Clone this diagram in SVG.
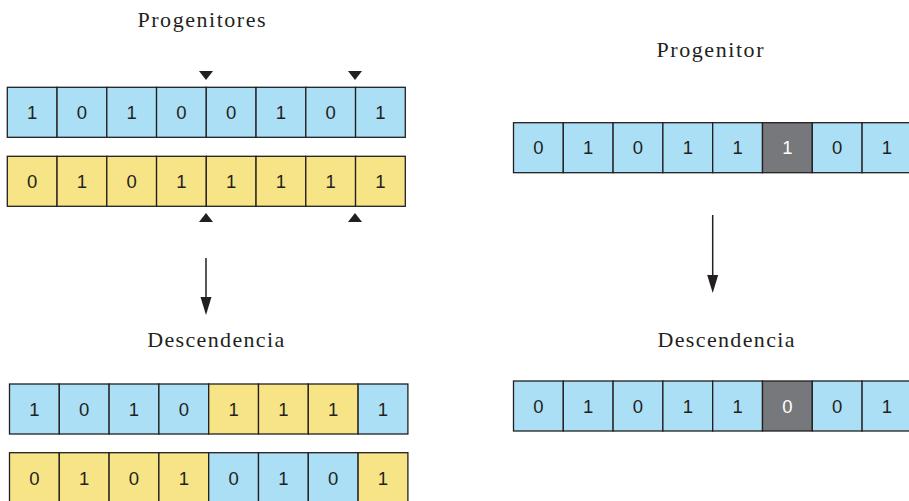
<svg xmlns="http://www.w3.org/2000/svg" width="909" height="501" viewBox="0 0 909 501">
<style>
.b{fill:#abdff5;stroke:#231f20;stroke-width:1.3}
.y{fill:#f7e486;stroke:#231f20;stroke-width:1.3}
.g{fill:#77787b;stroke:#231f20;stroke-width:1.3}
.d{font-family:"Liberation Sans",Arial,sans-serif;font-size:18.5px;fill:#231f20;text-anchor:middle}
.w{fill:#ffffff}
.t{font-family:"Liberation Serif","Times New Roman",serif;font-size:22px;fill:#231f20;text-anchor:middle}
.c{stroke:#231f20;stroke-width:1.5;fill:none}
.m{fill:#231f20}
</style>
<text class="t" x="201.5" y="26.7" textLength="128" lengthAdjust="spacing">Progenitores</text>
<text class="t" x="710" y="56.7" textLength="107" lengthAdjust="spacing">Progenitor</text>
<text class="t" x="215.7" y="347" textLength="137" lengthAdjust="spacing">Descendencia</text>
<text class="t" x="726" y="347" textLength="137" lengthAdjust="spacing">Descendencia</text>

<g id="markers">
<path class="m" d="M199,71 L213,71 L206,80 Z"/>
<path class="m" d="M348,71 L362,71 L355,80 Z"/>
<path class="m" d="M199,222 L213,222 L206,213 Z"/>
<path class="m" d="M348,222 L362,222 L355,213 Z"/>
</g>

<g id="parent1">
<rect class="b" x="7.3" y="87.3" width="49.75" height="50"/>
<rect class="b" x="57.05" y="87.3" width="49.75" height="50"/>
<rect class="b" x="106.8" y="87.3" width="49.75" height="50"/>
<rect class="b" x="156.55" y="87.3" width="49.75" height="50"/>
<rect class="b" x="206.3" y="87.3" width="49.75" height="50"/>
<rect class="b" x="256.05" y="87.3" width="49.75" height="50"/>
<rect class="b" x="305.8" y="87.3" width="49.75" height="50"/>
<rect class="b" x="355.55" y="87.3" width="49.75" height="50"/>
<text class="d" x="32.2" y="119">1</text>
<text class="d" x="81.9" y="119">0</text>
<text class="d" x="131.7" y="119">1</text>
<text class="d" x="181.4" y="119">0</text>
<text class="d" x="231.2" y="119">0</text>
<text class="d" x="280.9" y="119">1</text>
<text class="d" x="330.7" y="119">0</text>
<text class="d" x="380.4" y="119">1</text>
</g>

<g id="parent2">
<rect class="y" x="7.3" y="156.3" width="49.75" height="50"/>
<rect class="y" x="57.05" y="156.3" width="49.75" height="50"/>
<rect class="y" x="106.8" y="156.3" width="49.75" height="50"/>
<rect class="y" x="156.55" y="156.3" width="49.75" height="50"/>
<rect class="y" x="206.3" y="156.3" width="49.75" height="50"/>
<rect class="y" x="256.05" y="156.3" width="49.75" height="50"/>
<rect class="y" x="305.8" y="156.3" width="49.75" height="50"/>
<rect class="y" x="355.55" y="156.3" width="49.75" height="50"/>
<text class="d" x="32.2" y="188">0</text>
<text class="d" x="81.9" y="188">1</text>
<text class="d" x="131.7" y="188">0</text>
<text class="d" x="181.4" y="188">1</text>
<text class="d" x="231.2" y="188">1</text>
<text class="d" x="280.9" y="188">1</text>
<text class="d" x="330.7" y="188">1</text>
<text class="d" x="380.4" y="188">1</text>
</g>

<g id="child1">
<rect class="b" x="9.5" y="384" width="49.8" height="50"/>
<rect class="b" x="59.3" y="384" width="49.8" height="50"/>
<rect class="b" x="109.1" y="384" width="49.8" height="50"/>
<rect class="b" x="158.9" y="384" width="49.8" height="50"/>
<rect class="y" x="208.7" y="384" width="49.8" height="50"/>
<rect class="y" x="258.5" y="384" width="49.8" height="50"/>
<rect class="y" x="308.3" y="384" width="49.8" height="50"/>
<rect class="b" x="358.1" y="384" width="49.8" height="50"/>
<text class="d" x="34.4" y="415.5">1</text>
<text class="d" x="84.2" y="415.5">0</text>
<text class="d" x="134" y="415.5">1</text>
<text class="d" x="183.8" y="415.5">0</text>
<text class="d" x="233.6" y="415.5">1</text>
<text class="d" x="283.4" y="415.5">1</text>
<text class="d" x="333.2" y="415.5">1</text>
<text class="d" x="383" y="415.5">1</text>
</g>

<g id="child2">
<rect class="y" x="9.5" y="452.7" width="49.8" height="50"/>
<rect class="y" x="59.3" y="452.7" width="49.8" height="50"/>
<rect class="y" x="109.1" y="452.7" width="49.8" height="50"/>
<rect class="y" x="158.9" y="452.7" width="49.8" height="50"/>
<rect class="b" x="208.7" y="452.7" width="49.8" height="50"/>
<rect class="b" x="258.5" y="452.7" width="49.8" height="50"/>
<rect class="b" x="308.3" y="452.7" width="49.8" height="50"/>
<rect class="y" x="358.1" y="452.7" width="49.8" height="50"/>
<text class="d" x="34.4" y="484.5">0</text>
<text class="d" x="84.2" y="484.5">1</text>
<text class="d" x="134" y="484.5">0</text>
<text class="d" x="183.8" y="484.5">1</text>
<text class="d" x="233.6" y="484.5">0</text>
<text class="d" x="283.4" y="484.5">1</text>
<text class="d" x="333.2" y="484.5">0</text>
<text class="d" x="383" y="484.5">1</text>
</g>

<g id="parent3">
<rect class="b" x="513.5" y="122.7" width="49.8" height="50"/>
<rect class="b" x="563.3" y="122.7" width="49.8" height="50"/>
<rect class="b" x="613.1" y="122.7" width="49.8" height="50"/>
<rect class="b" x="662.9" y="122.7" width="49.8" height="50"/>
<rect class="b" x="712.7" y="122.7" width="49.8" height="50"/>
<rect class="g" x="762.5" y="122.7" width="49.8" height="50"/>
<rect class="b" x="812.3" y="122.7" width="49.8" height="50"/>
<rect class="b" x="862.1" y="122.7" width="49.8" height="50"/>
<text class="d" x="538.4" y="154">0</text>
<text class="d" x="588.2" y="154">1</text>
<text class="d" x="638" y="154">0</text>
<text class="d" x="687.8" y="154">1</text>
<text class="d" x="737.6" y="154">1</text>
<text class="d w" x="787.4" y="154">1</text>
<text class="d" x="837.2" y="154">0</text>
<text class="d" x="887" y="154">1</text>
</g>

<g id="child3">
<rect class="b" x="513.5" y="381" width="49.8" height="50"/>
<rect class="b" x="563.3" y="381" width="49.8" height="50"/>
<rect class="b" x="613.1" y="381" width="49.8" height="50"/>
<rect class="b" x="662.9" y="381" width="49.8" height="50"/>
<rect class="b" x="712.7" y="381" width="49.8" height="50"/>
<rect class="g" x="762.5" y="381" width="49.8" height="50"/>
<rect class="b" x="812.3" y="381" width="49.8" height="50"/>
<rect class="b" x="862.1" y="381" width="49.8" height="50"/>
<text class="d" x="538.4" y="412.5">0</text>
<text class="d" x="588.2" y="412.5">1</text>
<text class="d" x="638" y="412.5">0</text>
<text class="d" x="687.8" y="412.5">1</text>
<text class="d" x="737.6" y="412.5">1</text>
<text class="d w" x="787.4" y="412.5">0</text>
<text class="d" x="837.2" y="412.5">0</text>
<text class="d" x="887" y="412.5">1</text>
</g>

<g id="connectors">
<line class="c" x1="206" y1="258" x2="206" y2="300"/>
<path class="m" d="M200.5,297 L211.5,297 L206,315 Z"/>
<line class="c" x1="712.7" y1="215" x2="712.7" y2="278"/>
<path class="m" d="M707.2,275 L718.2,275 L712.7,293 Z"/>
</g>
</svg>
